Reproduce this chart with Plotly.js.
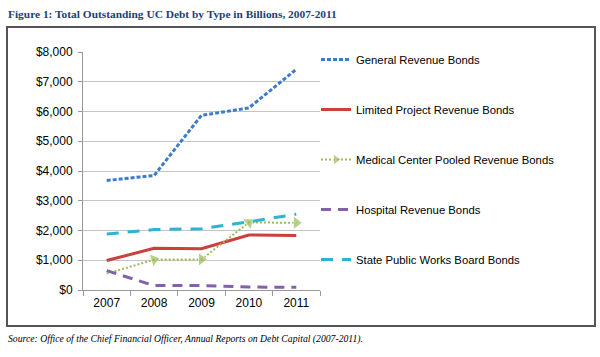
<!DOCTYPE html>
<html>
<head>
<meta charset="utf-8">
<script src="https://cdn.plot.ly/plotly-3.0.1.min.js"></script>
<style>html,body{margin:0;padding:0;background:#fff;}#chart{width:600px;height:357px;}</style>
</head>
<body>
<div id="chart"></div>
<script>
const years = ["2007", "2008", "2009", "2010", "2011"];
const generalRevenue = [3680, 3850, 5870, 6120, 7420];
const limitedProject = [990, 1400, 1390, 1850, 1830];
const medicalCenter = [550, 1020, 1030, 2270, 2260];
const hospitalRevenue = [650, 150, 150, 100, 90];
const statePublicWorks = [1880, 2030, 2060, 2290, 2550];
const seriesNames = ["General Revenue Bonds", "Limited Project Revenue Bonds", "Medical Center Pooled Revenue Bonds", "Hospital Revenue Bonds", "State Public Works Board Bonds"];
const yTickVals = [0, 1000, 2000, 3000, 4000, 5000, 6000, 7000, 8000];
const yTickText = ["$0", "$1,000", "$2,000", "$3,000", "$4,000", "$5,000", "$6,000", "$7,000", "$8,000"];
const titleText = "Figure 1: Total Outstanding UC Debt by Type in Billions, 2007-2011";
const sourceText = "Source: Office of the Chief Financial Officer, Annual Reports on Debt Capital (2007-2011).";

const traces = [
  {x: years, y: generalRevenue, name: seriesNames[0], mode: "lines", legendgroup: "a",
   line: {color: "#3D7CC9", width: 3, dash: "4px,2px"}},
  {x: years, y: limitedProject, name: seriesNames[1], mode: "lines", legendgroup: "b",
   line: {color: "#C9403E", width: 3}},
  {x: years, y: medicalCenter, name: seriesNames[2], mode: "lines+markers", legendgroup: "c",
   line: {color: "#9BBB59", width: 2, dash: "2px,2px"},
   marker: {symbol: "triangle-up", angleref: "previous", size: [0, 12, 12, 12, 12], color: "#9BBB59"}},
  {x: years, y: hospitalRevenue, name: seriesNames[3], mode: "lines", legendgroup: "d",
   line: {color: "#7F62A8", width: 3, dash: "10px,7px"}},
  {x: years, y: statePublicWorks, name: seriesNames[4], mode: "lines", legendgroup: "e",
   line: {color: "#2FB3D3", width: 3, dash: "12px,9px"}}
];

const L = 83, R = 280, T = 52, B = 67;
const pw = 600 - L - R, ph = 357 - T - B;
const px = v => (v - L) / pw;
const py = v => (357 - B - v) / ph;

const layout = {
  width: 600, height: 357,
  margin: {l: L, r: R, t: T, b: B},
  paper_bgcolor: "#fff", plot_bgcolor: "#fff",
  font: {family: "Liberation Sans, Arial, sans-serif", size: 12, color: "#000"},
  showlegend: true,
  legend: {x: px(316), y: py(45), xanchor: "left", yanchor: "top", traceorder: "grouped",
           tracegroupgap: 31, maxheight: 357, font: {size: 11.3, family: "Liberation Sans, Arial, sans-serif"},
           itemwidth: 30, bgcolor: "rgba(0,0,0,0)"},
  xaxis: {type: "category", tickson: "boundaries", ticks: "outside", ticklen: 5, tickcolor: "#999",
          showline: true, linecolor: "#999", linewidth: 1, showgrid: false, fixedrange: true,
          tickfont: {size: 12}, range: [-0.5, 4.5], ticklabelstandoff: 2},
  yaxis: {range: [0, 8000], tickvals: yTickVals, ticktext: yTickText, ticks: "outside", ticklen: 4,
          tickcolor: "#999", showline: true, linecolor: "#999", linewidth: 1, showgrid: true,
          gridcolor: "#c4c4c4", gridwidth: 1, zeroline: false, tickfont: {size: 12}, ticklabelstandoff: 3},
  shapes: [
    {type: "rect", xref: "paper", yref: "paper", x0: px(7), x1: px(595), y0: py(326), y1: py(27),
     line: {color: "#555", width: 2}, fillcolor: "rgba(0,0,0,0)", layer: "below"}
  ],
  annotations: [
    {text: "<b>" + titleText + "</b>", xref: "paper", yref: "paper", x: px(6), y: py(6),
     xanchor: "left", yanchor: "top", showarrow: false,
     font: {family: "Liberation Serif, serif", size: 11.4, color: "#1E3E78"}},
    {text: "<i>" + sourceText + "</i>", xref: "paper", yref: "paper", x: px(6), y: py(331),
     xanchor: "left", yanchor: "top", showarrow: false,
     font: {family: "Liberation Serif, serif", size: 9.7, color: "#000"}}
  ]
};

Plotly.newPlot("chart", traces, layout, {displayModeBar: false, staticPlot: true});
</script>
</body>
</html>
